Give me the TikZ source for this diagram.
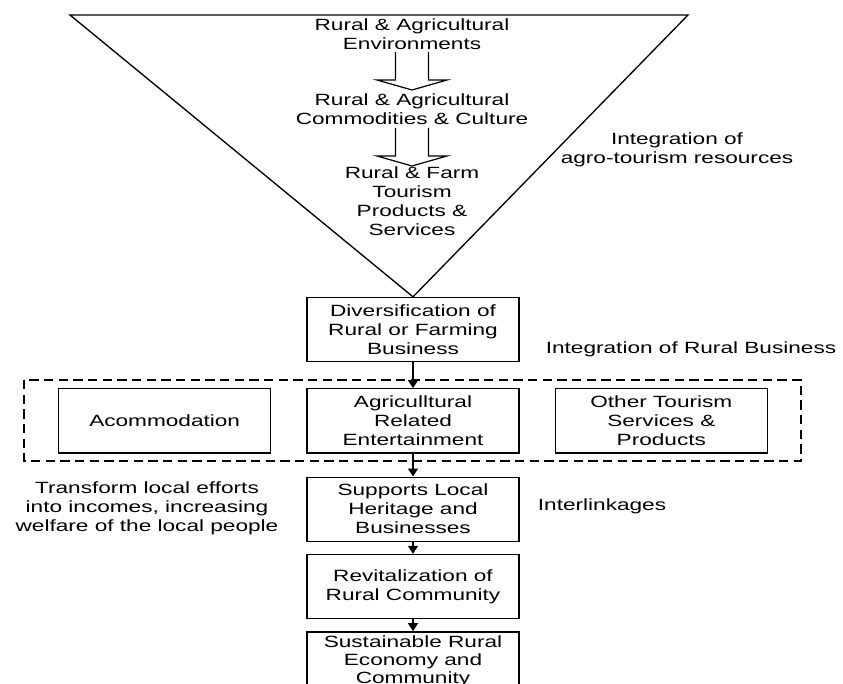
\documentclass[tikz,border=0pt]{standalone}
\usepackage{fontspec}
\setmainfont{Liberation Sans}[FakeStretch=1.39]
\usetikzlibrary{arrows.meta,positioning}

\tikzset{
  stage/.style={draw, line width=1pt, minimum width=159pt, minimum height=48pt,
    align=center, inner sep=2pt},
  note/.style={align=center, inner sep=0pt},
  hollow/.pic={\draw[line width=0.9pt] (-16.5,0) -- (-16.5,28) -- (-35,28) -- (0,38)
    -- (35,28) -- (16.5,28) -- (16.5,0);},
  group/.style={line width=1pt, dash pattern=on 7pt off 4pt}
}

\begin{document}
\begin{tikzpicture}[x=0.75pt, y=-0.75pt, >={Triangle[length=6pt,width=7.5pt]},
    every node/.style={font=\fontsize{12.2}{14.25}\selectfont}]
  \clip (0,0) rectangle (843,684);
  % resources inside the triangle
  \node[note] (env) at (412,34) {Rural \& Agricultural\\Environments};
  \node[note] (comm) at (412,109) {Rural \& Agricultural\\Commodities \& Culture};
  \node[note] (farm) at (412,201) {Rural \& Farm\\Tourism\\Products \&\\Services};
  \pic at (412,52) {hollow};
  \pic at (412,128) {hollow};
  \node[note] (res) at (677,150) {Integration of\\agro-tourism resources};

  % business chain
  \node[stage] (div) at (413,329.5) {Diversification of\\Rural or Farming\\Business};
  \draw[line width=1pt] (70,15) -- (688,15) -- (div.north) -- cycle;
  \node[note] (bus) at (691,349) {Integration of Rural Business};

  \node[stage, below=19.5pt of div] (agr) {Agriculltural\\Related\\Entertainment};
  \node[stage, left=26.25pt of agr] (acc) {Acommodation};
  \node[stage, right=26.25pt of agr] (oth) {Other Tourism\\Services \&\\Products};
  \draw[group] (24,380) rectangle (801,461);

  \node[stage, below=17.25pt of agr] (sup) {Supports Local\\Heritage and\\Businesses};
  \node[stage, below=9pt of sup] (rev) {Revitalization of\\Rural Community};
  \node[stage, below=9pt of rev, minimum height=44pt, inner sep=1pt,
    font=\fontsize{12.2}{13.5}\selectfont] (sus)
    {Sustainable Rural\\Economy and\\Community};

  \node[note] (link) at (602,506) {Interlinkages};
  \node[note] (inc) at (147,508) {Transform local efforts\\into incomes, increasing\\welfare of the local people};

  \draw[->, line width=1pt] (div) -- (agr);
  \draw[->, line width=1pt] (agr) -- (sup);
  \draw[->, line width=1pt] (sup) -- (rev);
  \draw[->, line width=1pt] (rev) -- (sus);
\end{tikzpicture}
\end{document}
